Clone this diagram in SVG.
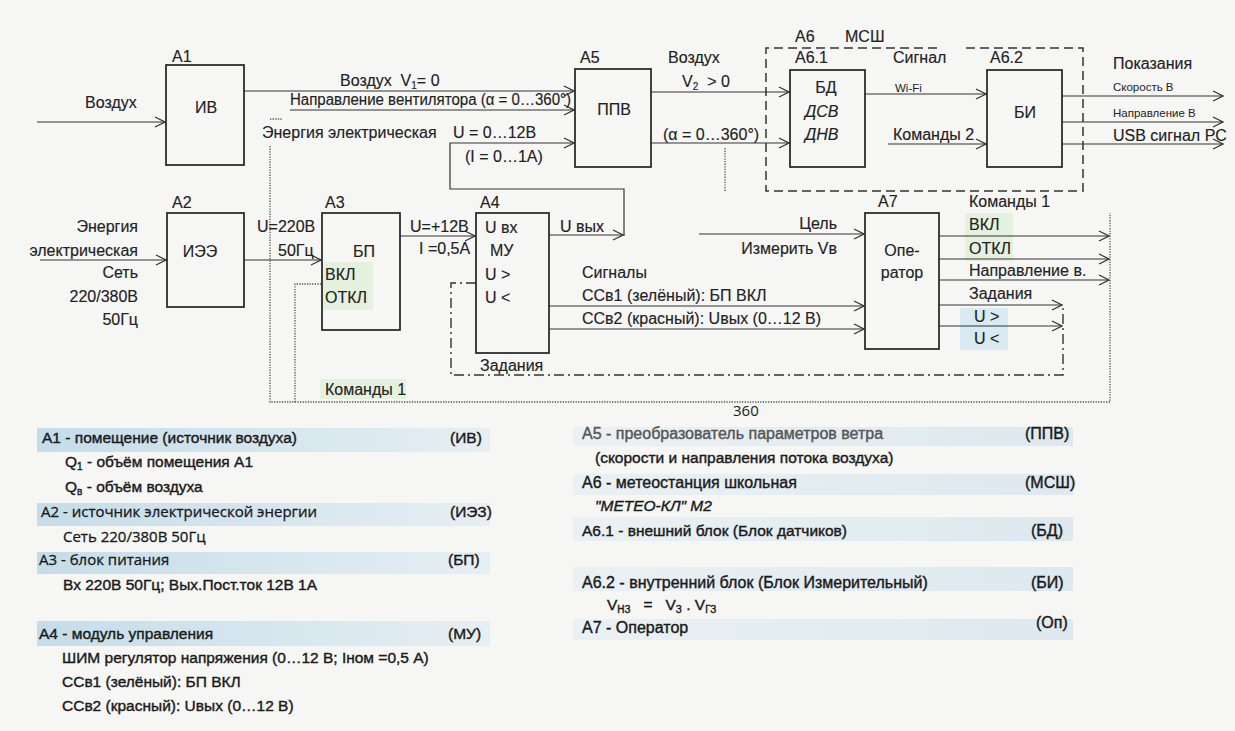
<svg xmlns="http://www.w3.org/2000/svg" width="1235" height="731" viewBox="0 0 1235 731">
<defs>
<marker id="ar" markerWidth="12" markerHeight="12" refX="11" refY="6" orient="auto" markerUnits="userSpaceOnUse">
<path d="M1,1 L11,6 L1,11" fill="none" stroke="#333" stroke-width="1.2"/>
</marker>
<linearGradient id="band" x1="0" x2="1" y1="0" y2="0">
<stop offset="0" stop-color="#c5dde9"/><stop offset="1" stop-color="#e6eff3"/>
</linearGradient>
<linearGradient id="band2" x1="0" x2="1" y1="0" y2="0">
<stop offset="0" stop-color="#eaf1f4"/><stop offset="1" stop-color="#dde9ef"/>
</linearGradient>
<style>
.t{font-family:"Liberation Sans",Arial,sans-serif;font-size:16px;fill:#222;stroke:#222;stroke-width:0.15}
.s{font-size:11.5px;stroke-width:0}
.i{font-style:italic}
.o{font-family:"Open Sans","Liberation Sans",sans-serif;font-size:15px;fill:#1a1a1a;stroke:#1a1a1a;stroke-width:0.3}
.lg{font-family:"Liberation Sans",Arial,sans-serif;font-size:15.5px;fill:#1a1a1a;stroke:#1a1a1a;stroke-width:0.4}
.rg{font-size:16px}
.pre{white-space:pre}
.box{fill:none;stroke:#222;stroke-width:1.7}
.ln{fill:none;stroke:#333;stroke-width:1.2}
.dot{fill:none;stroke:#555;stroke-width:1.3;stroke-dasharray:1.3 1.3}
.dash{fill:none;stroke:#333;stroke-width:1.5;stroke-dasharray:9 5}
.dd{fill:none;stroke:#333;stroke-width:1.4;stroke-dasharray:10 4 2 4}
.g{fill:#e4f1df}
.b{fill:#d9eaf3}
</style>
</defs>
<rect x="0" y="0" width="1235" height="731" fill="#f6f6f5"/>

<!-- highlights -->
<rect class="g" x="323" y="262" width="50" height="48"/>
<rect class="g" x="320" y="379" width="86" height="20"/>
<rect class="g" x="965" y="213" width="48" height="48"/>
<rect class="b" x="960" y="308" width="48" height="42"/>

<g id="connectors">
<path class="ln" d="M37,122 H165" marker-end="url(#ar)"/>
<path class="ln" d="M244,91 H574" marker-end="url(#ar)"/>
<path class="ln" d="M290,110 H574" marker-end="url(#ar)"/>
<path class="dot" d="M270,119 H283"/>
<path class="dot" d="M270,146 V402 H1110 V213"/>
<path class="ln" d="M549,235 H623" marker-end="url(#ar)"/>
<path class="ln" d="M624,236 V189 H450 V143 H574" marker-end="url(#ar)"/>
<path class="ln" d="M651,92 H789" marker-end="url(#ar)"/>
<path class="ln" d="M651,143 H789" marker-end="url(#ar)"/>
<path class="dot" d="M725,148 V192"/>
<path class="ln" d="M865,94 H986" marker-end="url(#ar)"/>
<path class="ln" d="M888,144 H986" marker-end="url(#ar)"/>
<path class="ln" d="M1062,96 H1223" marker-end="url(#ar)"/>
<path class="ln" d="M1062,122 H1223" marker-end="url(#ar)"/>
<path class="ln" d="M1062,144 H1223" marker-end="url(#ar)"/>
<path class="ln" d="M40,260 H166" marker-end="url(#ar)"/>
<path class="ln" d="M244,260 H321" marker-end="url(#ar)"/>
<path class="dot" d="M295,402 V284 H322"/>
<path class="ln" d="M400,236 H475" marker-end="url(#ar)"/>
<path class="dd" d="M476,283 H451 V375 H1063 V305"/>
<path class="ln" d="M549,306 H864" marker-end="url(#ar)"/>
<path class="ln" d="M549,329 H864" marker-end="url(#ar)"/>
<path class="ln" d="M699,234 H864" marker-end="url(#ar)"/>
<path class="ln" d="M939,236 H1109" marker-end="url(#ar)"/>
<path class="ln" d="M939,259 H1109" marker-end="url(#ar)"/>
<path class="ln" d="M939,280 H1109" marker-end="url(#ar)"/>
<path class="ln" d="M939,305 H1062" marker-end="url(#ar)"/>
<path class="ln" d="M939,326 H1062" marker-end="url(#ar)"/>
</g>

<!-- connector labels -->
<g id="labels">
<text class="t" x="85" y="108" font-size="16.5">Воздух</text>
<text class="t pre" x="340" y="86">Воздух  V<tspan font-size="10" dy="3">1</tspan><tspan dy="-3">= 0</tspan></text>
<text class="t" x="290" y="105" font-size="14.6" textLength="281" lengthAdjust="spacingAndGlyphs">Направление вентилятора (α = 0…360°)</text>
<text class="t" x="262" y="138" font-size="16.8">Энергия электрическая</text>
<text class="t" x="453" y="138">U = 0…12В</text>
<text class="t" x="465" y="162" font-size="16.5">(I = 0…1A)</text>
<text class="t" x="668" y="63">Воздух</text>
<text class="t pre" x="682" y="87">V<tspan font-size="10" dy="3">2</tspan><tspan dy="-3">  &gt; 0</tspan></text>
<text class="t" x="663" y="140">(α = 0…360°)</text>
<text class="t" x="893" y="63" font-size="13.5">Сигнал</text>
<text class="t s" x="895" y="92">Wi-Fi</text>
<text class="t" x="893" y="140" font-size="18">Команды 2</text>
<text class="t" x="1113" y="69" font-size="14.2">Показания</text>
<text class="t s" x="1113" y="91">Скорость В</text>
<text class="t s" x="1113" y="117">Направление В</text>
<text class="t" x="1113" y="141" font-size="15">USB сигнал PC</text>
<text class="t" x="138" y="232" font-size="15" text-anchor="end">Энергия</text>
<text class="t" x="138" y="256" font-size="15" text-anchor="end">электрическая</text>
<text class="t" x="138" y="278" font-size="15" text-anchor="end">Сеть</text>
<text class="t" x="138" y="302" font-size="15" text-anchor="end">220/380В</text>
<text class="t" x="138" y="325" font-size="15" text-anchor="end">50Гц</text>
<text class="t" x="257" y="232">U=220В</text>
<text class="t" x="278" y="256">50Гц</text>
<text class="t" x="410" y="232" font-size="17">U=+12В</text>
<text class="t" x="419" y="254" font-size="16.5">I =0,5А</text>
<text class="t" x="325" y="395" font-size="16.5">Команды 1</text>
<text class="t" x="560" y="232">U вых</text>
<text class="t" x="582" y="278">Сигналы</text>
<text class="t" x="582" y="301">ССв1 (зелёный): БП ВКЛ</text>
<text class="t" x="582" y="324" font-size="16.5">ССв2 (красный): Uвых (0…12 В)</text>
<text class="t" x="837" y="229" text-anchor="end">Цель</text>
<text class="t" x="837" y="254" text-anchor="end">Измерить Vв</text>
<text class="t" x="969" y="207" font-size="15">Команды 1</text>
<text class="t" x="969" y="230">ВКЛ</text>
<text class="t" x="969" y="254">ОТКЛ</text>
<text class="t" x="969" y="276" font-size="14">Направление в.</text>
<text class="t" x="969" y="299" font-size="15.5">Задания</text>
<text class="t" x="974" y="322">U &gt;</text>
<text class="t" x="974" y="344">U &lt;</text>
<text class="o" x="733" y="416" style="stroke-width:0">360</text>
</g>

<g id="A1">
<rect class="box" x="166" y="65" width="78" height="100"/>
<text class="t" x="172" y="62">A1</text>
<text class="t" x="206" y="113" text-anchor="middle">ИВ</text>
</g>
<g id="A2">
<rect class="box" x="167" y="213" width="77" height="94"/>
<text class="t" x="172" y="208">A2</text>
<text class="t" x="200" y="257" text-anchor="middle">ИЭЭ</text>
</g>
<g id="A3">
<rect class="box" x="322" y="213" width="78" height="117"/>
<text class="t" x="325" y="208">A3</text>
<text class="t" x="353" y="257">БП</text>
<text class="t" x="325" y="280">ВКЛ</text>
<text class="t" x="325" y="303">ОТКЛ</text>
</g>
<g id="A4">
<rect class="box" x="476" y="213" width="73" height="140"/>
<text class="t" x="480" y="208">A4</text>
<text class="t" x="485" y="233">U вх</text>
<text class="t" x="490" y="256">МУ</text>
<text class="t" x="485" y="280">U &gt;</text>
<text class="t" x="485" y="303">U &lt;</text>
<text class="t" x="480" y="371">Задания</text>
</g>
<g id="A5">
<rect class="box" x="575" y="69" width="76" height="98"/>
<text class="t" x="580" y="63">A5</text>
<text class="t" x="614" y="115" text-anchor="middle">ППВ</text>
</g>
<g id="A6">
<path class="dash" d="M937,48 H766 V191 H1083 V48 H963"/>
<text class="t" x="795" y="42">A6</text>
<text class="t" x="845" y="42">МСШ</text>
</g>
<g id="A6.1">
<rect class="box" x="790" y="70" width="75" height="97"/>
<text class="t" x="795" y="63">A6.1</text>
<text class="t" x="826" y="93" text-anchor="middle">БД</text>
<text class="t i" x="805" y="117">ДСВ</text>
<text class="t i" x="805" y="140">ДНВ</text>
</g>
<g id="A6.2">
<rect class="box" x="987" y="70" width="75" height="97"/>
<text class="t" x="990" y="63">A6.2</text>
<text class="t" x="1025" y="118" text-anchor="middle">БИ</text>
</g>
<g id="A7">
<rect class="box" x="865" y="213" width="74" height="136"/>
<text class="t" x="878" y="207">A7</text>
<text class="t" x="902" y="256" text-anchor="middle">Опе-</text>
<text class="t" x="902" y="278" text-anchor="middle">ратор</text>
</g>

<g id="legend">
<rect x="37" y="428" width="453" height="24" fill="url(#band)"/>
<rect x="37" y="503" width="453" height="23" fill="url(#band)"/>
<rect x="37" y="552" width="453" height="22" fill="url(#band)"/>
<rect x="37" y="621" width="453" height="25" fill="url(#band)"/>
<text class="lg" x="42" y="443">A1 - помещение (источник воздуха)</text>
<text class="lg" x="450" y="443">(ИВ)</text>
<text class="lg" x="65" y="467">Q<tspan font-size="10" dy="3">1</tspan><tspan dy="-3"> - объём помещения A1</tspan></text>
<text class="lg" x="65" y="492">Q<tspan font-size="10" dy="3">в</tspan><tspan dy="-3"> - объём воздуха</tspan></text>
<text class="o" x="41" y="517">A2 - источник электрической энергии</text>
<text class="lg" x="450" y="517">(ИЭЗ)</text>
<text class="o" x="63" y="542">Сеть 220/380В 50Гц</text>
<text class="o" x="39" y="565">A3 - блок питания</text>
<text class="lg" x="448" y="565">(БП)</text>
<text class="lg" x="63" y="590">Вх 220В 50Гц; Вых.Пост.ток 12В 1А</text>
<text class="lg" x="39" y="639">A4 - модуль управления</text>
<text class="lg" x="448" y="639">(МУ)</text>
<text class="lg" x="62" y="663">ШИМ регулятор напряжения (0…12 В; Iном =0,5 А)</text>
<text class="lg" x="62" y="687">ССв1 (зелёный): БП ВКЛ</text>
<text class="lg" x="62" y="711">ССв2 (красный): Uвых (0…12 В)</text>

<rect x="573" y="427" width="500" height="19" fill="url(#band2)"/>
<rect x="573" y="474" width="500" height="21" fill="url(#band2)"/>
<rect x="573" y="517" width="500" height="24" fill="url(#band2)"/>
<rect x="573" y="567" width="500" height="24" fill="url(#band2)"/>
<rect x="573" y="619" width="500" height="21" fill="url(#band2)"/>
<text class="lg rg" x="582" y="439" style="fill:#555;stroke:#555">A5 - преобразователь параметров ветра</text>
<text class="lg rg" x="1025" y="439">(ППВ)</text>
<text class="lg" x="595" y="463">(скорости и направления потока воздуха)</text>
<text class="lg rg" x="582" y="488">A6 - метеостанция школьная</text>
<text class="lg rg" x="1025" y="488">(МСШ)</text>
<text class="lg i" x="595" y="511">"МЕТЕО-КЛ" М2</text>
<text class="lg" x="582" y="536" font-size="16.5">A6.1 - внешний блок (Блок датчиков)</text>
<text class="lg rg" x="1031" y="536">(БД)</text>
<text class="lg rg" x="582" y="588">A6.2 - внутренний блок (Блок Измерительный)</text>
<text class="lg rg" x="1031" y="588">(БИ)</text>
<text class="lg pre" x="607" y="610">V<tspan font-size="10" dy="3">НЗ</tspan><tspan dy="-3">   =   V</tspan><tspan font-size="10" dy="3">З</tspan><tspan dy="-3"> . V</tspan><tspan font-size="10" dy="3">ГЗ</tspan></text>
<text class="lg rg" x="582" y="633">A7 - Оператор</text>
<text class="lg rg" x="1036" y="628">(Оп)</text>
</g>
</svg>
